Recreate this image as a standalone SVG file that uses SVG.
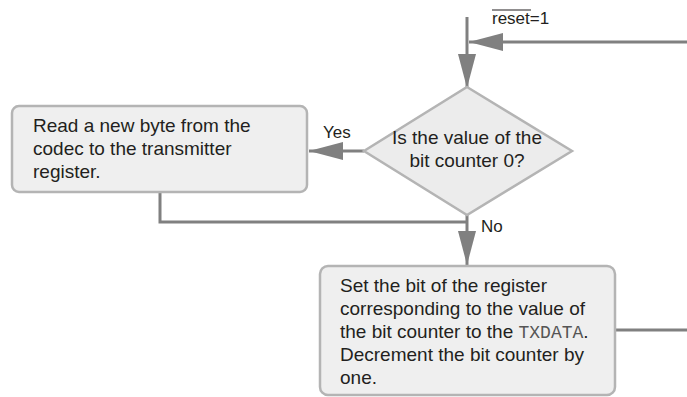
<svg xmlns="http://www.w3.org/2000/svg" width="687" height="397" viewBox="0 0 687 397">
<style>
.bg{fill:#ffffff}
.box{fill:#efefef;stroke:#b4b4b4;stroke-width:2.5}
.dia{fill:#ececec;stroke:#b4b4b4;stroke-width:2.5}
.con{fill:none;stroke:#808080;stroke-width:3}
.t{font-family:"Liberation Sans",Arial,sans-serif;font-size:19px;fill:#231f20}
.l{font-family:"Liberation Sans",Arial,sans-serif;font-size:17px;fill:#231f20}
.m{font-family:"Liberation Mono","Courier New",monospace;font-size:18px;fill:#555555}
</style>
<defs>
<marker id="ah" markerUnits="userSpaceOnUse" markerWidth="34" markerHeight="18" refX="34" refY="9" orient="auto">
<path d="M0,0 L34,9 L0,18 z" fill="#808080"/>
</marker>
</defs>
<rect class="bg" x="0" y="0" width="687" height="397"/>
<g id="connectors">
<line class="con" x1="467" y1="17" x2="467" y2="88" marker-end="url(#ah)"/>
<line class="con" x1="687" y1="42" x2="469" y2="42" marker-end="url(#ah)"/>
<line class="con" x1="364" y1="151" x2="309" y2="151" marker-end="url(#ah)"/>
<line class="con" x1="467" y1="215" x2="467" y2="265" marker-end="url(#ah)"/>
<polyline class="con" points="160,192 160,222 467,222"/>
<line class="con" x1="615" y1="330" x2="687" y2="330"/>
<text class="l" x="492" y="24">reset=1</text>
<line x1="492" y1="10" x2="531" y2="10" stroke="#231f20" stroke-width="1.2"/>
<text class="l" x="323" y="138">Yes</text>
<text class="l" x="481" y="232">No</text>
</g>
<g id="decision">
<polygon class="dia" points="467,87 572,151 467,215 364,151"/>
<text class="t" x="467" y="144" text-anchor="middle">Is the value of the</text>
<text class="t" x="467" y="167" text-anchor="middle">bit counter 0?</text>
</g>
<g id="read-byte">
<rect class="box" x="12" y="106" width="295" height="86" rx="7"/>
<text class="t" x="33" y="132">Read a new byte from the</text>
<text class="t" x="33" y="155">codec to the transmitter</text>
<text class="t" x="33" y="178">register.</text>
</g>
<g id="set-bit">
<rect class="box" x="320" y="266" width="295" height="129" rx="8"/>
<text class="t" x="340" y="292">Set the bit of the register</text>
<text class="t" x="340" y="315">corresponding to the value of</text>
<text class="t" x="340" y="338">the bit counter to the <tspan class="m">TXDATA</tspan>.</text>
<text class="t" x="340" y="361">Decrement the bit counter by</text>
<text class="t" x="340" y="384">one.</text>
</g>
</svg>
